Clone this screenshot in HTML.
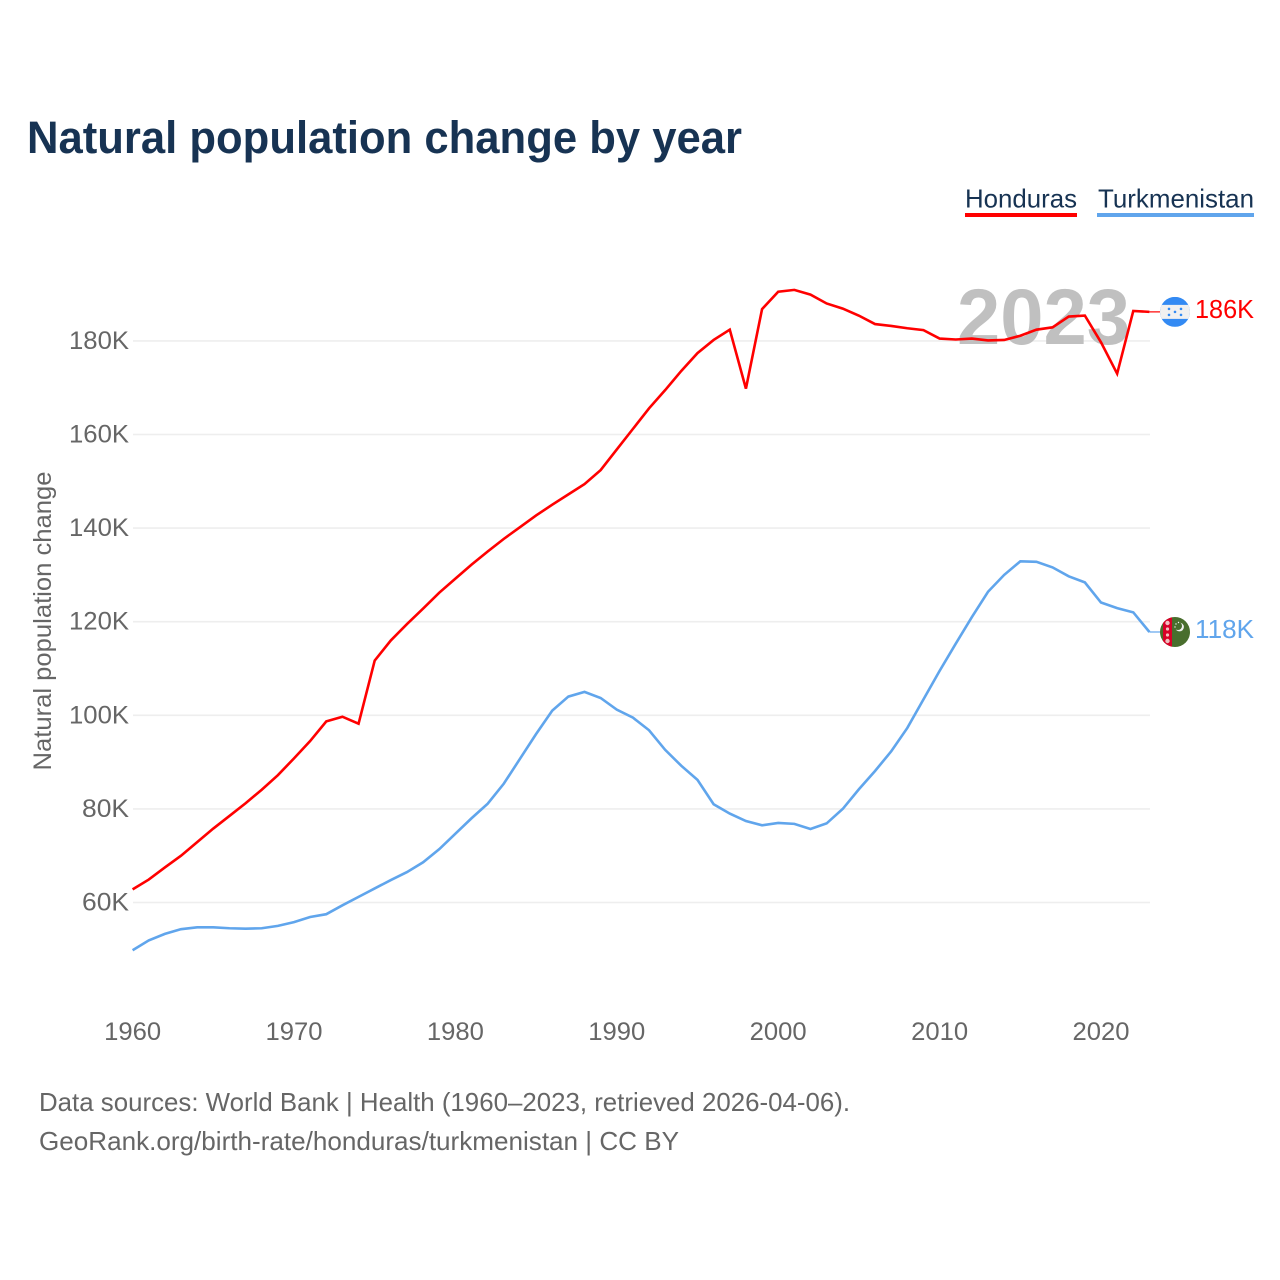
<!DOCTYPE html>
<html lang="en">
<head>
<meta charset="utf-8">
<title>Natural population change by year</title>
<style>
html,body{margin:0;padding:0;background:#fff;width:1280px;height:1280px;overflow:hidden}
svg{display:block;font-family:"Liberation Sans",sans-serif}
</style>
</head>
<body>
<svg id="chart" xmlns="http://www.w3.org/2000/svg" width="1280" height="1280" viewBox="0 0 1280 1280">
  <text x="27" y="153" font-size="45" font-weight="700" fill="#173353" textLength="715" lengthAdjust="spacingAndGlyphs">Natural population change by year</text>

  <g>
    <text x="965" y="207.5" font-size="26" fill="#173353" textLength="112" lengthAdjust="spacingAndGlyphs">Honduras</text>
    <rect x="965" y="213" width="112" height="4" fill="#ff0000"/>
  </g>
  <g>
    <text x="1098" y="207.5" font-size="26" fill="#173353" textLength="156" lengthAdjust="spacingAndGlyphs">Turkmenistan</text>
    <rect x="1097" y="213" width="157" height="4" fill="#60a5ec"/>
  </g>

  <text transform="translate(51,621) rotate(-90)" text-anchor="middle" font-size="25" fill="#666666" textLength="299" lengthAdjust="spacingAndGlyphs">Natural population change</text>

  <g id="grid"></g>
  <g id="yticks"></g>
  <g id="xticks"></g>

  <text id="year-label" x="957" y="344" font-size="79" font-weight="700" fill="#c0c0c0" textLength="173" lengthAdjust="spacingAndGlyphs"></text>

  <g id="series"></g>

  <defs>
    <clipPath id="clip-hn"><circle cx="0" cy="0" r="15"/></clipPath>
    <clipPath id="clip-tm"><circle cx="0" cy="0" r="15"/></clipPath>
  </defs>

  <g id="flag-hn">
    <g clip-path="url(#clip-hn)">
      <rect x="-15" y="-15" width="30" height="30" fill="#338af3"/>
      <rect x="-15" y="-7" width="30" height="14" fill="#f0f0f0"/>
      <g fill="#338af3">
        <circle cx="-6" cy="-3" r="1.3"/><circle cx="6" cy="-3" r="1.3"/>
        <circle cx="0" cy="0" r="1.3"/>
        <circle cx="-6" cy="3" r="1.3"/><circle cx="6" cy="3" r="1.3"/>
      </g>
    </g>
  </g>
  <g id="flag-tm">
    <g clip-path="url(#clip-tm)">
      <rect x="-15" y="-15" width="30" height="30" fill="#496e2d"/>
      <rect x="-12" y="-15" width="9" height="30" fill="#d80027"/>
      <g fill="#f0c0c0">
        <circle cx="-7.5" cy="-9" r="2.2"/><circle cx="-7.5" cy="-3" r="1.6"/>
        <circle cx="-7.5" cy="3" r="1.6"/><circle cx="-7.5" cy="9" r="2.2"/>
      </g>
      <circle cx="4.5" cy="-5" r="4.4" fill="#f0f0f0"/>
      <circle cx="3" cy="-6" r="4" fill="#496e2d"/>
      <g fill="#f0f0f0">
        <circle cx="1" cy="-8" r=".7"/><circle cx="3.5" cy="-9.5" r=".7"/><circle cx="0" cy="-5" r=".7"/>
      </g>
    </g>
  </g>

  <text id="value-hn" x="1195" font-size="26" fill="#ff0000" textLength="59" lengthAdjust="spacingAndGlyphs"></text>
  <text id="value-tm" x="1195" font-size="26" fill="#60a5ec" textLength="59" lengthAdjust="spacingAndGlyphs"></text>

  <g>
    <text x="39" y="1111" font-size="26" fill="#666666" textLength="811" lengthAdjust="spacingAndGlyphs">Data sources: World Bank | Health (1960–2023, retrieved 2026-04-06).</text>
    <text x="39" y="1150" font-size="26" fill="#666666" textLength="640" lengthAdjust="spacingAndGlyphs">GeoRank.org/birth-rate/honduras/turkmenistan | CC BY</text>
  </g>
</svg>

<script>
const startYear = 1960;
const xTickYears = [1960, 1970, 1980, 1990, 2000, 2010, 2020];
const yTickValues = [60, 80, 100, 120, 140, 160, 180];
const honduras = [62.8,64.9,67.5,70.0,72.9,75.8,78.5,81.2,84.1,87.2,90.8,94.5,98.7,99.7,98.2,111.7,116.0,119.5,122.8,126.2,129.2,132.2,135.0,137.7,140.2,142.7,145.0,147.2,149.4,152.4,156.8,161.2,165.6,169.5,173.6,177.4,180.2,182.4,169.8,186.8,190.5,190.9,189.9,188.0,186.9,185.4,183.6,183.2,182.7,182.3,180.5,180.3,180.5,180.1,180.2,181.1,182.4,182.9,185.2,185.4,179.7,173.0,186.4,186.2];
const turkmenistan = [49.8,51.9,53.3,54.3,54.7,54.7,54.5,54.4,54.5,55.0,55.8,56.9,57.5,59.4,61.2,63.0,64.8,66.5,68.6,71.4,74.7,78.0,81.1,85.4,90.7,96.0,101.0,104.0,105.0,103.7,101.2,99.5,96.8,92.6,89.2,86.2,81.0,79.0,77.4,76.5,77.0,76.8,75.7,76.9,80.0,84.2,88.1,92.3,97.3,103.4,109.5,115.3,121.0,126.4,130.0,132.9,132.8,131.6,129.7,128.4,124.1,122.9,122.0,117.8];

const NS = 'http://www.w3.org/2000/svg';
const xScale = function (year) { return 132.6 + (year - 1960) * 16.14; };
const yScale = function (value) { return 902.5 - (value - 60) * 4.68; };
const formatK = function (value) { return Math.round(value) + 'K'; };

const make = function (tag, attrs, parent) {
  const el = document.createElementNS(NS, tag);
  Object.keys(attrs).forEach(function (k) { el.setAttribute(k, attrs[k]); });
  parent.appendChild(el);
  return el;
};

const grid = document.getElementById('grid');
const yticks = document.getElementById('yticks');
yTickValues.forEach(function (v) {
  const line = make('line', { x1: 133, x2: 1150, y1: yScale(v), y2: yScale(v), stroke: '#eeeeee', 'stroke-width': 1.6 }, grid);
  
  
  const text = formatK(v);
  const label = make('text', { x: 129, y: yScale(v) + 8, 'text-anchor': 'end', 'font-size': 25, fill: '#666666', textLength: text.length === 3 ? 47 : 60, lengthAdjust: 'spacingAndGlyphs' }, yticks);
  
  
  label.textContent = text;
});

const xticks = document.getElementById('xticks');
xTickYears.forEach(function (y) {
  const label = make('text', { x: xScale(y), y: 1040, 'text-anchor': 'middle', 'font-size': 25, fill: '#666666', textLength: 57, lengthAdjust: 'spacingAndGlyphs' }, xticks);
  
  
  label.textContent = String(y);
});

const seriesGroup = document.getElementById('series');
const drawSeries = function (values, color, flagId, valueId, name) {
  const pts = values.map(function (v, i) { return xScale(startYear + i).toFixed(2) + ',' + yScale(v).toFixed(2); });
  const line = make('polyline', { points: pts.join(' '), fill: 'none', stroke: color, 'stroke-width': 2.6, 'stroke-linejoin': 'miter' }, seriesGroup);
  
  

  const last = values[values.length - 1];
  const lastX = xScale(startYear + values.length - 1);
  const lastY = yScale(last);
  const leader = make('line', { x1: lastX, x2: 1160, y1: lastY, y2: lastY, stroke: color, 'stroke-width': 1.2 }, seriesGroup);
  
  

  document.getElementById(flagId).setAttribute('transform', 'translate(1175,' + lastY + ')');
  const valueText = document.getElementById(valueId);
  valueText.setAttribute('y', lastY + 6);
  valueText.textContent = formatK(last);
};

document.getElementById('year-label').textContent = String(startYear + honduras.length - 1);
drawSeries(turkmenistan, '#60a5ec', 'flag-tm', 'value-tm', 'turkmenistan-line');
drawSeries(honduras, '#ff0000', 'flag-hn', 'value-hn', 'honduras-line');
</script>
</body>
</html>
